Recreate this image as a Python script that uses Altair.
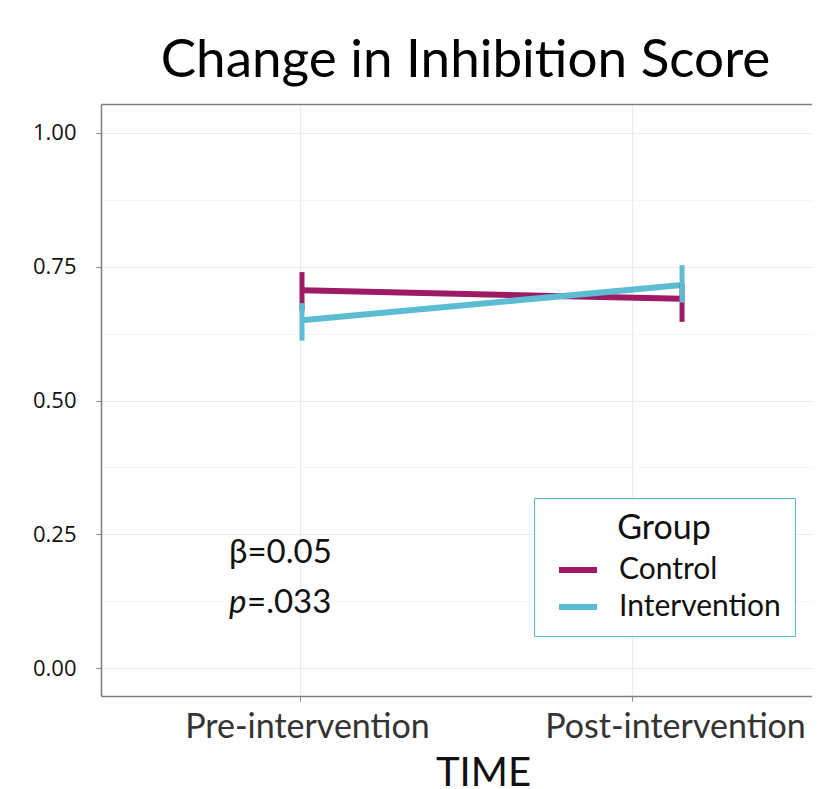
import altair as alt
import pandas as pd

# ---- data ----
time_labels = ["Pre-intervention", "Post-intervention"]
time_index = [1, 2]
groups = ["Control", "Intervention"]
control_mean = [0.706, 0.690]
control_lo = [0.668, 0.647]
control_hi = [0.740, 0.718]
interv_mean = [0.650, 0.716]
interv_lo = [0.612, 0.683]
interv_hi = [0.682, 0.753]
group_colors = ["#9E1A64", "#5BBCD2"]

y_ticks = [0, 0.125, 0.25, 0.375, 0.5, 0.625, 0.75, 0.875, 1.0]
x_grid = [0.9947, 1.8684]

ann_lines = ["\u03b2=0.05", "p", "=.033"]
ann_x = [0.808, 0.808, 0.808]
ann_y = [0.215, 0.1215, 0.1215]
ann_dx = [0, 0, 18]
ann_style = ["normal", "italic", "normal"]

rows = []
for g, m, lo, hi in [("Control", control_mean, control_lo, control_hi),
                     ("Intervention", interv_mean, interv_lo, interv_hi)]:
    for t, ti, mv, l, h in zip(time_labels, time_index, m, lo, hi):
        rows.append({"Group": g, "Time": t, "t": ti, "mean": mv, "lo": l, "hi": h})
df = pd.DataFrame(rows)
ann = pd.DataFrame({"text": ann_lines, "x": ann_x, "y": ann_y, "dx": ann_dx, "style": ann_style})

xscale = alt.Scale(domain=[0.4711, 2.342], nice=False, zero=False)
yscale = alt.Scale(domain=[-0.0523, 1.0542], nice=False, zero=False)
color = alt.Color("Group:N", scale=alt.Scale(domain=groups, range=group_colors),
                  legend=alt.Legend(orient="none", legendX=433, legendY=394,
                                    title="Group", titleFontSize=34, titleFont="Lato",
                                    titleFontWeight="normal", titleColor="#111111",
                                    titleAnchor="middle", titlePadding=2,
                                    labelFont="Lato", labelFontSize=30, labelColor="#111111",
                                    labelOffset=19, rowPadding=0, labelLimit=0,
                                    symbolType="stroke", symbolStrokeWidth=6, symbolSize=1444,
                                    symbolOffset=8,
                                    padding=14, strokeColor="#5BBCD1",
                                    fillColor="white", cornerRadius=0))

x_bottom = alt.X("t:Q", scale=xscale, title="TIME",
                 axis=alt.Axis(values=x_grid, labelExpr="datum.value < 1.5 ? 'Pre-intervention' : 'Post-intervention'",
                               labelOffset={"condition": {"test": "datum.value > 1.5", "value": 43}, "value": 7},
                               labelFont="Lato", labelFontSize=34, labelColor="#333333", labelLimit=0,
                               labelPadding=9, tickSize=5, tickColor="#888888",
                               domainColor="#7f7f7f", domainWidth=1.5,
                               grid=True, gridColor="#ebebeb", gridWidth=1.2,
                               titleFont="Lato", titleFontSize=40, titleFontWeight="normal",
                               titleColor="#111111", titleX=382, titleAlign="center",
                               titlePadding=9))
x_top = alt.X("t:Q", scale=xscale,
              axis=alt.Axis(orient="top", labels=False, ticks=False, grid=False, title=None,
                            domainColor="#7f7f7f", domainWidth=1.5))

y_left = alt.Y("mean:Q", scale=yscale, title=None,
               axis=alt.Axis(values=y_ticks,
                             labelExpr="(datum.value * 8) % 2 == 0 ? format(datum.value, '.2f') : ''",
                             labelFont="Open Sans", labelFontSize=22, labelColor="#111111",
                             labelPadding=20, tickSize=5, tickColor="#888888",
                             tickOpacity={"condition": {"test": "(datum.value * 8) % 2 == 0", "value": 1}, "value": 0},
                             gridColor={"condition": {"test": "(datum.value * 8) % 2 == 0", "value": "#ebebeb"}, "value": "#f5f5f5"},
                             gridWidth=1.2,
                             domainColor="#7f7f7f", domainWidth=1.5))

lines = alt.Chart(df).mark_line(strokeWidth=6).encode(
    x=x_bottom, y=y_left, color=color, detail="Group:N"
)
err = alt.Chart(df).mark_rule(strokeWidth=5).encode(
    x=x_top, y=alt.Y("lo:Q", scale=yscale, axis=None), y2="hi:Q",
    color=alt.Color("Group:N", scale=alt.Scale(domain=groups, range=group_colors), legend=None)
)

text_parts = []
for i in range(len(ann_lines)):
    sub = ann.iloc[[i]]
    text_parts.append(
        alt.Chart(sub).mark_text(font="Lato", fontSize=33, align="left", baseline="middle",
                                 color="#111111", dx=int(ann_dx[i]), fontStyle=ann_style[i]).encode(
            x=alt.X("x:Q", scale=xscale, axis=None),
            y=alt.Y("y:Q", scale=yscale, axis=None),
            text="text:N",
        )
    )

chart = alt.layer(lines, err, *text_parts).resolve_axis(x="independent", y="independent").properties(
    width=711, height=592,
    title=alt.TitleParams("Change in Inhibition Score", font="Lato", fontSize=53,
                          fontWeight="normal", color="#000000", anchor="middle", dx=9, offset=16),
    padding={"left": 24, "top": 27, "right": 0, "bottom": 0},
).configure_view(stroke=None).configure_legend(strokeWidth=2).configure(background="white")

chart.save("out.html", embed_options={"renderer": "svg", "actions": False})
